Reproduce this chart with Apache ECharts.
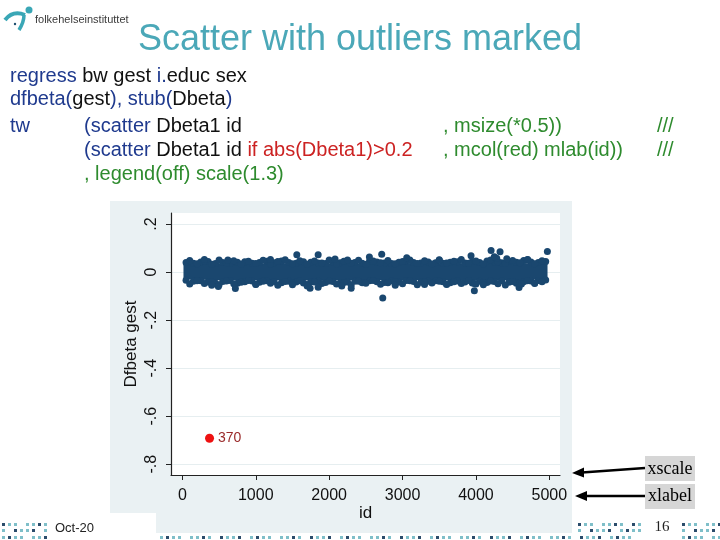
<!DOCTYPE html>
<html><head><meta charset="utf-8">
<script src="https://cdn.jsdelivr.net/npm/echarts@6/dist/echarts.min.js"></script>
<style>html,body{margin:0;padding:0;background:#fff}#c{width:720px;height:540px}</style>
</head><body><div id="c"></div>
<script>
// ---- data ----
const xTicks = [0, 1000, 2000, 3000, 4000, 5000];
const yTicks = [-0.8, -0.6, -0.4, -0.2, 0, 0.2];

// solid core of the dense point cloud (id, upper, lower)
const bandIds  = [15, 500, 1000, 1500, 2000, 2500, 3000, 3500, 4000, 4500, 4975];
const bandHigh = [0.036, 0.037, 0.036, 0.038, 0.037, 0.036, 0.038, 0.037, 0.038, 0.039, 0.035];
const bandLow  = [-0.030, -0.034, -0.033, -0.035, -0.034, -0.033, -0.034, -0.033, -0.035, -0.034, -0.029];

// ragged edge points of the cloud
const edgeIds = [50,150,250,350,450,550,650,750,850,950,
  1050,1150,1250,1350,1450,1550,1650,1750,1850,1950,
  2050,2150,2250,2350,2450,2550,2650,2750,2850,2950,
  3050,3150,3250,3350,3450,3550,3650,3750,3850,3950,
  4050,4150,4250,4350,4450,4550,4650,4750,4850,4950];
const edgeHigh = [0.040,0.037,0.042,0.044,0.036,0.040,0.038,0.041,0.043,0.037,
  0.040,0.045,0.039,0.046,0.040,0.037,0.043,0.041,0.038,0.036,
  0.041,0.039,0.044,0.040,0.037,0.045,0.042,0.038,0.036,0.041,
  0.047,0.040,0.038,0.042,0.039,0.037,0.041,0.043,0.038,0.044,
  0.040,0.046,0.043,0.039,0.045,0.041,0.048,0.042,0.040,0.044];
const edgeLow = [-0.034,-0.038,-0.036,-0.041,-0.045,-0.039,-0.035,-0.047,-0.040,-0.037,
  -0.042,-0.036,-0.039,-0.044,-0.038,-0.041,-0.046,-0.040,-0.037,-0.043,
  -0.039,-0.045,-0.041,-0.038,-0.044,-0.036,-0.040,-0.043,-0.037,-0.041,
  -0.035,-0.039,-0.042,-0.038,-0.036,-0.040,-0.044,-0.037,-0.041,-0.045,
  -0.038,-0.043,-0.039,-0.036,-0.042,-0.047,-0.040,-0.037,-0.035,-0.033];
const edgeIds2 = [100,200,300,400,500,600,700,800,900,
  1000,1100,1200,1300,1400,1500,1600,1700,1800,1900,
  2000,2100,2200,2300,2400,2500,2600,2700,2800,2900,
  3000,3100,3200,3300,3400,3500,3600,3700,3800,3900,
  4000,4100,4200,4300,4400,4500,4600,4700,4800,4900];
const edgeHigh2 = [0.048,0.035,0.046,0.033,0.050,0.039,0.047,0.034,0.045,
  0.036,0.049,0.034,0.044,0.051,0.035,0.047,0.033,0.046,0.038,
  0.050,0.034,0.045,0.037,0.049,0.033,0.046,0.039,0.048,0.035,
  0.044,0.050,0.036,0.047,0.034,0.049,0.038,0.045,0.052,0.037,
  0.046,0.034,0.050,0.043,0.036,0.048,0.039,0.051,0.035,0.047];
const edgeLow2 = [-0.050,-0.036,-0.048,-0.040,-0.053,-0.037,-0.049,-0.042,-0.035,
  -0.051,-0.038,-0.047,-0.055,-0.039,-0.046,-0.036,-0.052,-0.041,-0.048,
  -0.037,-0.050,-0.043,-0.054,-0.038,-0.047,-0.035,-0.051,-0.044,-0.039,
  -0.049,-0.036,-0.053,-0.041,-0.046,-0.038,-0.052,-0.040,-0.048,-0.035,
  -0.050,-0.043,-0.037,-0.049,-0.054,-0.039,-0.046,-0.036,-0.045,-0.040];

// individual stray points (blue)
const strayIds  = [1559, 1850, 2548, 2716, 3057, 3933, 4206, 4328, 4283, 4250, 4973, 4705, 300, 620, 1200, 2080, 3500, 2250, 4420,
                   490, 722, 400, 1500, 1740, 1850, 1700, 2172, 2300, 2730, 3978, 3978, 4101, 4587, 4620, 1000, 3300, 2900, 3600, 4800];
const strayVals = [0.072, 0.072, 0.063, 0.074, 0.060, 0.068, 0.090, 0.085, 0.058, 0.064, 0.086, 0.052, 0.052, 0.050, 0.052, 0.054, 0.051, 0.050, 0.055,
                   -0.060, -0.068, -0.055, -0.053, -0.067, -0.063, -0.058, -0.058, -0.067, -0.108, -0.048, -0.078, -0.053, -0.064, -0.050, -0.052, -0.052, -0.055, -0.050, -0.048];

// outliers with |Dbeta1| > 0.2 (red, labelled)
const outIds  = [370];
const outVals = [-0.692];

// ---- styling ----
const NAVY = '#1a476f';
const BG = '#eaf1f3';
const FONT = '"Liberation Sans", Arial, sans-serif';
const SERIF = '"Liberation Serif", "Times New Roman", serif';

function pairs(xs, ys) { return xs.map((x, i) => [x, ys[i]]); }
function yFmt(v) {
  if (Math.abs(v) < 1e-9) return '0';
  return (v < 0 ? '-' : '') + Math.abs(v).toFixed(1).replace(/^0/, '');
}

// footer decoration dots
const dots = [];
const dotRows = [
  {y: 523, segs: [[2, 48], [578, 640], [682, 720]]},
  {y: 529, segs: [[2, 48], [578, 640], [682, 720]]},
  {y: 536, segs: [[2, 48], [160, 640], [682, 720]]}
];
dotRows.forEach((r, ri) => {
  r.segs.forEach(s => {
    for (let x = s[0], k = 0; x < s[1]; x += 6, k++) {
      if ((k + ri * 2) % 5 === 3) continue;
      dots.push({type: 'rect', z: -20, shape: {x: x, y: r.y, width: 3, height: 3},
        style: {fill: (k + ri) % 3 === 0 ? '#2b4c6b' : '#7fbfc9'}});
    }
  });
});

const codeRich = {
  b: {fill: '#1f3a8e', font: '20px ' + FONT},
  k: {fill: '#111111', font: '20px ' + FONT},
  g: {fill: '#2e8b2e', font: '20px ' + FONT},
  r: {fill: '#cc2222', font: '20px ' + FONT}
};
function codeText(x, y, txt) {
  return {type: 'text', x: x, y: y, style: {text: txt, rich: codeRich, verticalAlign: 'middle', textVerticalAlign: 'middle', font: '20px ' + FONT}};
}

const graphics = [
  // graph region background
  {type: 'rect', z: -5, shape: {x: 110, y: 201, width: 462, height: 312}, style: {fill: BG}},
  {type: 'rect', z: -5, shape: {x: 156, y: 512, width: 416, height: 21}, style: {fill: BG}},
  // logo
  {type: 'bezierCurve', shape: {x1: 5, y1: 20, cpx1: 13, cpy1: 10, x2: 25, y2: 15}, style: {stroke: '#3aa7b6', lineWidth: 4, fill: null}},
  {type: 'bezierCurve', shape: {x1: 24, y1: 15, cpx1: 24, cpy1: 22, x2: 19, y2: 30}, style: {stroke: '#3aa7b6', lineWidth: 3.5, fill: null}},
  {type: 'circle', shape: {cx: 29, cy: 10, r: 3.5}, style: {fill: '#3aa7b6'}},
  {type: 'circle', shape: {cx: 15, cy: 24, r: 1.2}, style: {fill: '#1d4e6e'}},
  {type: 'text', x: 35, y: 20, style: {text: 'folkehelseinstituttet', font: '11px ' + FONT, fill: '#3a3a3a', textVerticalAlign: 'middle'}},
  // title
  {type: 'text', x: 360, y: 40, style: {text: 'Scatter with outliers marked', font: '36px ' + FONT, fill: '#4ba8b8', textAlign: 'center', textVerticalAlign: 'middle'}},
  // code lines
  codeText(10, 76, '{b|regress}{k| bw gest }{b|i.}{k|educ sex}'),
  codeText(10, 99, '{b|dfbeta(}{k|gest}{b|), stub(}{k|Dbeta}{b|)}'),
  codeText(10, 126, '{b|tw}'),
  codeText(84, 126, '{b|(scatter}{k| Dbeta1 id}'),
  codeText(443, 126, '{g|, msize(*0.5))}'),
  codeText(657, 126, '{g|///}'),
  codeText(84, 150, '{b|(scatter}{k| Dbeta1 id }{r|if abs(Dbeta1)>0.2}'),
  codeText(443, 150, '{g|, mcol(red) mlab(id))}'),
  codeText(657, 150, '{g|///}'),
  codeText(84, 174, '{g|, legend(off) scale(1.3)}'),
  // annotation boxes + arrows
  {type: 'rect', shape: {x: 645, y: 456, width: 50, height: 25}, style: {fill: '#d6d6d6'}},
  {type: 'rect', shape: {x: 645, y: 484, width: 50, height: 25}, style: {fill: '#d6d6d6'}},
  {type: 'text', x: 670, y: 469, style: {text: 'xscale', font: '18px ' + SERIF, fill: '#000', textAlign: 'center', textVerticalAlign: 'middle'}},
  {type: 'text', x: 670, y: 496, style: {text: 'xlabel', font: '18px ' + SERIF, fill: '#000', textAlign: 'center', textVerticalAlign: 'middle'}},
  {type: 'line', shape: {x1: 645, y1: 468, x2: 582, y2: 472.5}, style: {stroke: '#000', lineWidth: 2.5}},
  {type: 'polygon', shape: {points: [[572, 473], [584, 467.5], [584, 477.5]]}, style: {fill: '#000'}},
  {type: 'line', shape: {x1: 645, y1: 496, x2: 585, y2: 496}, style: {stroke: '#000', lineWidth: 2.5}},
  {type: 'polygon', shape: {points: [[575, 496], [587, 491], [587, 501]]}, style: {fill: '#000'}},
  // footer
  {type: 'text', x: 55, y: 528, style: {text: 'Oct-20', font: '13px ' + FONT, fill: '#222', textVerticalAlign: 'middle'}},
  {type: 'text', x: 662, y: 527, style: {text: '16', font: '15px ' + SERIF, fill: '#222', textAlign: 'center', textVerticalAlign: 'middle'}}
].concat(dots);

const chart = echarts.init(document.getElementById('c'), null, {renderer: 'canvas'});
chart.setOption({
  backgroundColor: '#fff',
  animation: false,
  graphic: {elements: graphics},
  grid: {left: 171, top: 213, width: 389, height: 262, show: true, backgroundColor: '#fff', borderWidth: 0},
  xAxis: {
    type: 'value', min: -155, max: 5145,
    axisLine: {show: true, onZero: false, lineStyle: {color: '#222', width: 1.2}},
    axisTick: {show: true, customValues: xTicks, length: 5, lineStyle: {color: '#222'}},
    axisLabel: {customValues: xTicks, fontSize: 16, color: '#111', margin: 13, fontFamily: FONT, formatter: v => String(Math.round(v))},
    splitLine: {show: false},
    name: 'id', nameLocation: 'middle', nameGap: 30, nameMoveOverlap: false,
    nameTextStyle: {fontSize: 17, color: '#111', fontFamily: FONT}
  },
  yAxis: {
    type: 'value', min: -0.845, max: 0.246,
    axisLine: {show: true, onZero: false, lineStyle: {color: '#222', width: 1.2}},
    axisTick: {show: true, customValues: yTicks, length: 5, lineStyle: {color: '#222'}},
    axisLabel: {customValues: yTicks, rotate: 90, fontSize: 16, color: '#111', margin: 11, fontFamily: FONT, formatter: yFmt},
    splitLine: {show: true, lineStyle: {color: '#e6eef0', width: 1}},
    name: 'Dfbeta gest', nameLocation: 'middle', nameGap: 31, nameRotate: 90, nameMoveOverlap: false,
    nameTextStyle: {fontSize: 17, color: '#111', fontFamily: FONT}
  },
  series: [
    {
      type: 'custom', z: 3, silent: true,
      data: [[bandIds[0], bandHigh[0]]],
      renderItem: function (params, api) {
        const pts = [];
        for (let i = 0; i < bandIds.length; i++) pts.push(api.coord([bandIds[i], bandHigh[i]]));
        for (let i = bandIds.length - 1; i >= 0; i--) pts.push(api.coord([bandIds[i], bandLow[i]]));
        return {type: 'polygon', shape: {points: pts}, style: {fill: NAVY}};
      }
    },
    {type: 'scatter', z: 4, symbolSize: 7, itemStyle: {color: NAVY, opacity: 1},
      data: pairs(edgeIds, edgeHigh).concat(pairs(edgeIds, edgeLow), pairs(edgeIds2, edgeHigh2), pairs(edgeIds2, edgeLow2))},
    {type: 'scatter', z: 4, symbolSize: 7, itemStyle: {color: NAVY, opacity: 1}, data: pairs(strayIds, strayVals)},
    {type: 'scatter', z: 5, symbolSize: 9, itemStyle: {color: '#ee1111', opacity: 1},
      data: pairs(outIds, outVals),
      label: {show: true, position: 'right', distance: 4, formatter: p => String(p.value[0]), color: '#9a2a2a', fontSize: 14, fontFamily: FONT}}
  ]
});
</script>
</body></html>
